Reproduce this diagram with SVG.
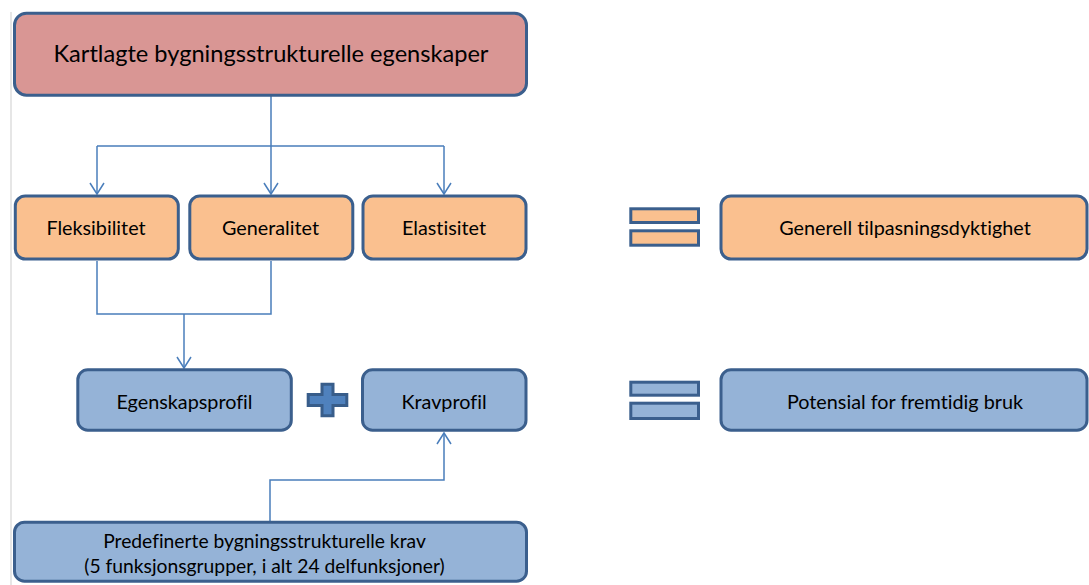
<svg xmlns="http://www.w3.org/2000/svg" width="1089" height="585" viewBox="0 0 1089 585">
<style>
.box{stroke:#3b5f8d;stroke-width:3}
.red{fill:#d99694}
.org{fill:#fac08f}
.blu{fill:#95b3d7}
.t{font-family:Lato,"Liberation Sans",sans-serif;fill:#000;text-anchor:middle;font-variant-ligatures:none;font-feature-settings:"liga" 0}
.conn{fill:none;stroke:#4a7ebb;stroke-width:1.5}
</style>
<defs>
<marker id="arr" markerUnits="userSpaceOnUse" viewBox="-13 -9 15 18" refX="0" refY="0" markerWidth="15" markerHeight="18" orient="auto">
<path d="M-11,-7 L0,0 L-11,7" fill="none" stroke="#4a7ebb" stroke-width="1.5"/>
</marker>
</defs>
<rect x="0" y="0" width="1089" height="585" fill="#fff"/>
<line x1="11" y1="12" x2="11" y2="585" stroke="#dedede" stroke-width="1.5"/>
<g id="connectors">
<path class="conn" d="M271,96 V146 M97,146 H444"/>
<path class="conn" d="M97,146 V194" marker-end="url(#arr)"/>
<path class="conn" d="M271,146 V194" marker-end="url(#arr)"/>
<path class="conn" d="M444,146 V194" marker-end="url(#arr)"/>
<path class="conn" d="M97,261 V314 H271 V261"/>
<path class="conn" d="M184,314 V368" marker-end="url(#arr)"/>
<path class="conn" d="M270,521 V480 H444 V433" marker-end="url(#arr)"/>
</g>
<g id="kartlagte">
<rect class="box red" x="14.5" y="13.2" width="512" height="82" rx="12"/>
<text class="t" x="271" y="62" font-size="23.6">Kartlagte bygningsstrukturelle egenskaper</text>
</g>
<g id="fleksibilitet">
<rect class="box org" x="15.3" y="196" width="163" height="63" rx="10"/>
<text class="t" x="96" y="235" font-size="19.8">Fleksibilitet</text>
</g>
<g id="generalitet">
<rect class="box org" x="189.8" y="196" width="163" height="63" rx="10"/>
<text class="t" x="270.5" y="235" font-size="19.8">Generalitet</text>
</g>
<g id="elastisitet">
<rect class="box org" x="363" y="196" width="163" height="63" rx="10"/>
<text class="t" x="444" y="235" font-size="19.8">Elastisitet</text>
</g>
<g id="eq1">
<rect class="box org" x="630.8" y="208.8" width="67.7" height="13.7"/>
<rect class="box org" x="630.8" y="230.8" width="67.7" height="14.4"/>
</g>
<g id="generell">
<rect class="box org" x="721" y="196" width="366" height="63" rx="10"/>
<text class="t" x="905" y="235" font-size="19.8">Generell tilpasningsdyktighet</text>
</g>
<g id="egenskapsprofil">
<rect class="box blu" x="77.8" y="369.8" width="213.5" height="60.4" rx="10"/>
<text class="t" x="184.5" y="409" font-size="19.8">Egenskapsprofil</text>
</g>
<g id="plus">
<path d="M322,384.2 H333 V394.5 H346.8 V405.5 H333 V415.8 H322 V405.5 H308.2 V394.5 H322 Z" fill="#4f81bd" stroke="#385d8a" stroke-width="3" stroke-linejoin="miter"/>
</g>
<g id="kravprofil">
<rect class="box blu" x="362.5" y="369.8" width="163.5" height="60.4" rx="10"/>
<text class="t" x="444" y="409" font-size="19.8">Kravprofil</text>
</g>
<g id="eq2">
<rect class="box blu" x="630.8" y="382.2" width="67.7" height="13"/>
<rect class="box blu" x="630.8" y="403.2" width="67.7" height="15.3"/>
</g>
<g id="potensial">
<rect class="box blu" x="721" y="369.8" width="366" height="60.4" rx="10"/>
<text class="t" x="905" y="409" font-size="19.8">Potensial for fremtidig bruk</text>
</g>
<g id="predefinerte">
<rect class="box blu" x="14.5" y="522.2" width="512" height="59" rx="10"/>
<text class="t" x="264.5" y="548" font-size="19.3">Predefinerte bygningsstrukturelle krav</text>
<text class="t" x="264.5" y="573" font-size="19.3">(5 funksjonsgrupper, i alt 24 delfunksjoner)</text>
</g>
</svg>
